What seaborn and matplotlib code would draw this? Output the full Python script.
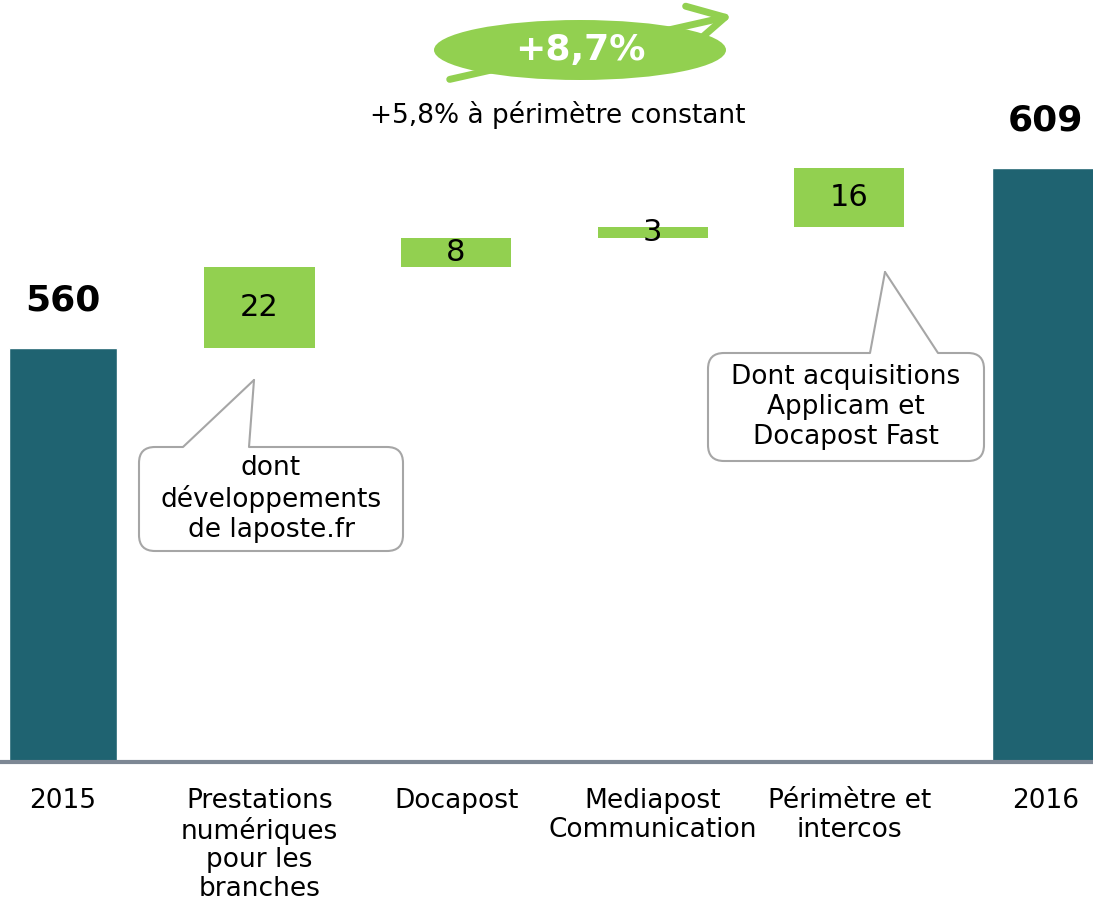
import numpy as np
import pandas as pd
import matplotlib
matplotlib.use("Agg")
import matplotlib.pyplot as plt
import seaborn as sns
from matplotlib.patches import Ellipse, FancyBboxPatch, Polygon, FancyArrowPatch
from matplotlib.transforms import IdentityTransform


# DATA
categories = [
    "2015",
    "Prestations\nnumériques\npour les\nbranches",
    "Docapost",
    "Mediapost\nCommunication",
    "Périmètre et\nintercos",
    "2016",
]
start_value = 560
end_value = 609
increments = [22, 8, 3, 16]

growth_label = "+8,7%"
organic_label = "+5,8% à périmètre constant"
note_left = "dont\ndéveloppements\nde laposte.fr"
note_right = "Dont acquisitions\nApplicam et\nDocapost Fast"

TEAL = "#1f6371"
GREEN = "#92d050"
EDGE = "#a6a6a6"

W, H = 1093, 910

sns.set_theme(style="white")
plt.rcParams["font.family"] = ["DejaVu Sans"]


def px(x, y):
    # pixel coordinates measured from the top-left corner
    return (x, H - y)


fig = plt.figure(figsize=(W / 100, H / 100), dpi=100)
ax = fig.add_axes([0, 148 / H, 1, 762 / H])

# totals
totals = pd.DataFrame({
    "cat": categories,
    "value": [start_value, np.nan, np.nan, np.nan, np.nan, end_value],
})
sns.barplot(
    data=totals,
    x="cat",
    y="value",
    order=categories,
    color=TEAL,
    saturation=1,
    width=0.55,
    ax=ax,
)

# floating steps
bottoms = start_value + np.concatenate([[0], np.cumsum(increments)[:-1]])
steps_x = np.arange(1, 1 + len(increments))
ax.bar(steps_x, increments, bottom=bottoms, width=0.56, color=GREEN, linewidth=0)

for x, b, v in zip(steps_x, bottoms, increments):
    ax.text(x, b + v / 2, f"{v}", ha="center", va="center", fontsize=22, color="black")

for x, v in [(0, start_value), (len(categories) - 1, end_value)]:
    ax.text(x, v + 13, f"{v}", ha="center", va="center",
            fontsize=26, fontweight="bold", color="black")

ax.set_xlim(-0.32, 5.24)
ax.set_ylim(447.3, 654.7)
ax.set_xlabel("")
ax.set_ylabel("")
ax.set_yticks([])
for s in ax.spines.values():
    s.set_visible(False)
ax.axhline(447.3, color="#7d8794", linewidth=3, clip_on=False, zorder=5)
ax.tick_params(axis="x", length=0, pad=19, labelsize=19, colors="black")
for lab in ax.get_xticklabels():
    lab.set_linespacing(1.12)

# growth ellipse with arrow
arrow = FancyArrowPatch(
    px(447, 80), px(735, 15),
    transform=IdentityTransform(),
    arrowstyle="->,head_length=1.3,head_width=0.7",
    mutation_scale=20,
    color=GREEN,
    linewidth=5,
    zorder=1,
)
fig.patches.append(arrow)
ell = Ellipse(px(580, 50), 292, 60, transform=IdentityTransform(),
              facecolor=GREEN, edgecolor="none", zorder=2)
fig.patches.append(ell)
fig.text(580 / W, 1 - 50 / H, growth_label, ha="center", va="center",
         fontsize=26, fontweight="bold", color="white", zorder=3)
fig.text(558 / W, 1 - 115 / H, organic_label, ha="center", va="center",
         fontsize=19, color="black")


# callouts
def callout(x0, y0, x1, y1, tail, text):
    box = FancyBboxPatch(
        px(x0, y1), x1 - x0, y1 - y0,
        boxstyle="round,pad=0,rounding_size=16",
        transform=IdentityTransform(),
        facecolor="white", edgecolor=EDGE, linewidth=1.5, zorder=4,
    )
    fig.patches.append(box)
    pts = [px(*p) for p in tail]
    fill = Polygon([pts[0], pts[1], pts[2], (pts[2][0], pts[2][1] - 3), (pts[0][0], pts[0][1] - 3)],
                   closed=True, transform=IdentityTransform(),
                   facecolor="white", edgecolor="none", zorder=5)
    fig.patches.append(fill)
    for a, b in [(pts[0], pts[1]), (pts[1], pts[2])]:
        fig.lines.append(plt.Line2D([a[0], b[0]], [a[1], b[1]], transform=IdentityTransform(),
                                    color=EDGE, linewidth=1.5, zorder=6))
    fig.text((x0 + x1) / 2 / W, 1 - (y0 + y1) / 2 / H, text, ha="center", va="center",
             fontsize=19, color="black", zorder=7)


callout(139, 447, 403, 551, [(183, 447), (254, 380), (249, 447)], note_left)
callout(708, 353, 984, 461, [(870, 353), (885, 272), (938, 353)], note_right)

plt.savefig("out.png", dpi=100)
